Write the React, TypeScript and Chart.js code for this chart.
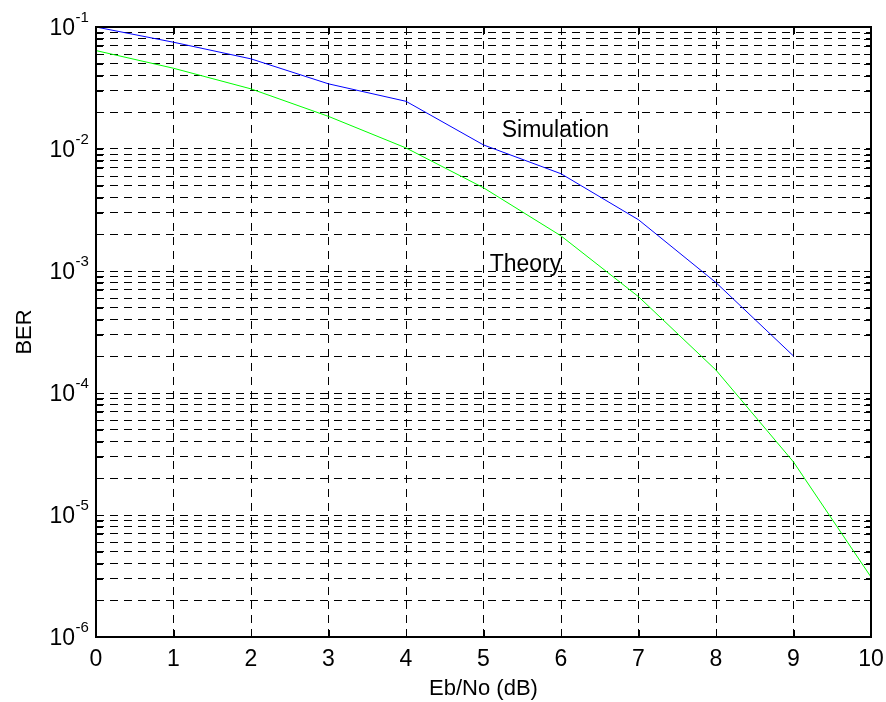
import React, { useEffect, useRef } from "react";
import { Chart, registerables } from "chart.js";

Chart.register(...registerables);

// ---- data ----
const ebNo = [0, 1, 2, 3, 4, 5, 6, 7, 8, 9, 10];
const simulationBer = [0.1, 0.075, 0.0548, 0.0342, 0.0246, 0.0108, 0.00627, 0.00263, 0.000803, 0.000201];
const theoryBer = [0.0641, 0.0459, 0.0311, 0.0185, 0.0102, 0.00481, 0.00194, 0.000616, 0.000154, 0.0000272, 0.0000031];
const xTickLabels = ["0", "1", "2", "3", "4", "5", "6", "7", "8", "9", "10"];
const yExponents = [-1, -2, -3, -4, -5, -6];
const xTitle = "Eb/No (dB)";
const yTitle = "BER";
const curveNames = ["Simulation", "Theory"];
const curveNameX = [5.235, 5.08];
const curveNameY = [0.01245, 0.001];

const FONT = "'Liberation Sans', Arial, Helvetica, sans-serif";

const decorPlugin = {
  id: "decor",
  afterDraw(chart: any) {
    const { ctx, chartArea: a } = chart;
    const x = chart.scales.x;
    const y = chart.scales.y;
    ctx.save();
    ctx.strokeStyle = "#000";
    ctx.lineWidth = 1;
    ctx.setLineDash([]);
    // tick marks (inside)
    y.ticks.forEach((t: any) => {
      const py = Math.round(y.getPixelForValue(t.value)) + 0.5;
      const len = 7;
      ctx.beginPath();
      ctx.moveTo(a.left, py);
      ctx.lineTo(a.left + len, py);
      ctx.moveTo(a.right - len, py);
      ctx.lineTo(a.right, py);
      ctx.stroke();
    });
    x.ticks.forEach((t: any) => {
      const px = Math.round(x.getPixelForValue(t.value)) + 0.5;
      const len = 7;
      ctx.beginPath();
      ctx.moveTo(px, a.bottom);
      ctx.lineTo(px, a.bottom - len);
      ctx.moveTo(px, a.top);
      ctx.lineTo(px, a.top + len);
      ctx.stroke();
    });
    // box
    ctx.lineWidth = 2;
    ctx.strokeRect(a.left, a.top, a.right - a.left, a.bottom - a.top);

    ctx.fillStyle = "#000";
    // y tick labels 10^n
    yExponents.forEach((e) => {
      const py = y.getPixelForValue(Math.pow(10, e));
      ctx.font = `23px ${FONT}`;
      ctx.textAlign = "right";
      ctx.textBaseline = "alphabetic";
      ctx.fillText("10", 75, py + 8);
      ctx.font = `15px ${FONT}`;
      ctx.textAlign = "left";
      ctx.fillText(String(e), 75.5, py - 5);
    });
    // x tick labels
    ctx.font = `23px ${FONT}`;
    ctx.textAlign = "center";
    ctx.textBaseline = "alphabetic";
    ebNo.forEach((v, i) => {
      ctx.fillText(xTickLabels[i], x.getPixelForValue(v), 666);
    });
    // axis titles
    ctx.font = `22px ${FONT}`;
    ctx.fillText(xTitle, (a.left + a.right) / 2, 695);
    ctx.save();
    ctx.translate(31, (a.top + a.bottom) / 2);
    ctx.rotate(-Math.PI / 2);
    ctx.textAlign = "center";
    ctx.fillText(yTitle, 0, 0);
    ctx.restore();
    // curve names
    ctx.font = `23px ${FONT}`;
    ctx.textAlign = "left";
    curveNames.forEach((n, i) => {
      ctx.fillText(n, x.getPixelForValue(curveNameX[i]), y.getPixelForValue(curveNameY[i]));
    });
    ctx.restore();
  },
};

export default function App() {
  const ref = useRef<HTMLCanvasElement | null>(null);
  useEffect(() => {
    if (!ref.current) return;
    const chart = new Chart(ref.current, {
      type: "line",
      data: {
        datasets: [
          {
            label: "Simulation",
            data: simulationBer.map((v, i) => ({ x: ebNo[i], y: v })),
            borderColor: "#0000ff",
            borderWidth: 1,
            pointRadius: 0,
            fill: false,
            tension: 0,
          },
          {
            label: "Theory",
            data: theoryBer.map((v, i) => ({ x: ebNo[i], y: v })),
            borderColor: "#00ff00",
            borderWidth: 1,
            pointRadius: 0,
            fill: false,
            tension: 0,
          },
        ],
      },
      options: {
        responsive: false,
        animation: false,
        events: [],
        layout: { padding: { left: 96, right: 15, top: 27, bottom: 65 } },
        plugins: { legend: { display: false }, tooltip: { enabled: false }, title: { display: false } },
        scales: {
          x: {
            type: "linear",
            min: 0,
            max: 10,
            ticks: { display: false, stepSize: 1 },
            grid: { color: "#000", lineWidth: 1, drawTicks: false },
            border: { display: false, dash: [8, 6] },
          },
          y: {
            type: "logarithmic",
            min: 1e-6,
            max: 1e-1,
            afterBuildTicks: (scale: any) => {
              const ticks: any[] = [];
              for (let e = -6; e <= -2; e++) {
                for (let m = 1; m <= 9; m++) ticks.push({ value: m * Math.pow(10, e) });
              }
              ticks.push({ value: 0.1 });
              scale.ticks = ticks;
            },
            ticks: { display: false },
            grid: { color: "#000", lineWidth: 1, drawTicks: false },
            border: { display: false, dash: [8, 6] },
          },
        },
      },
      plugins: [decorPlugin],
    } as any);
    return () => chart.destroy();
  }, []);
  return (
    <div style={{ position: "fixed", left: 0, top: 0, width: 886, height: 702, background: "#fff" }}>
      <canvas ref={ref} width={886} height={702} style={{ display: "block", width: 886, height: 702 }} />
    </div>
  );
}
